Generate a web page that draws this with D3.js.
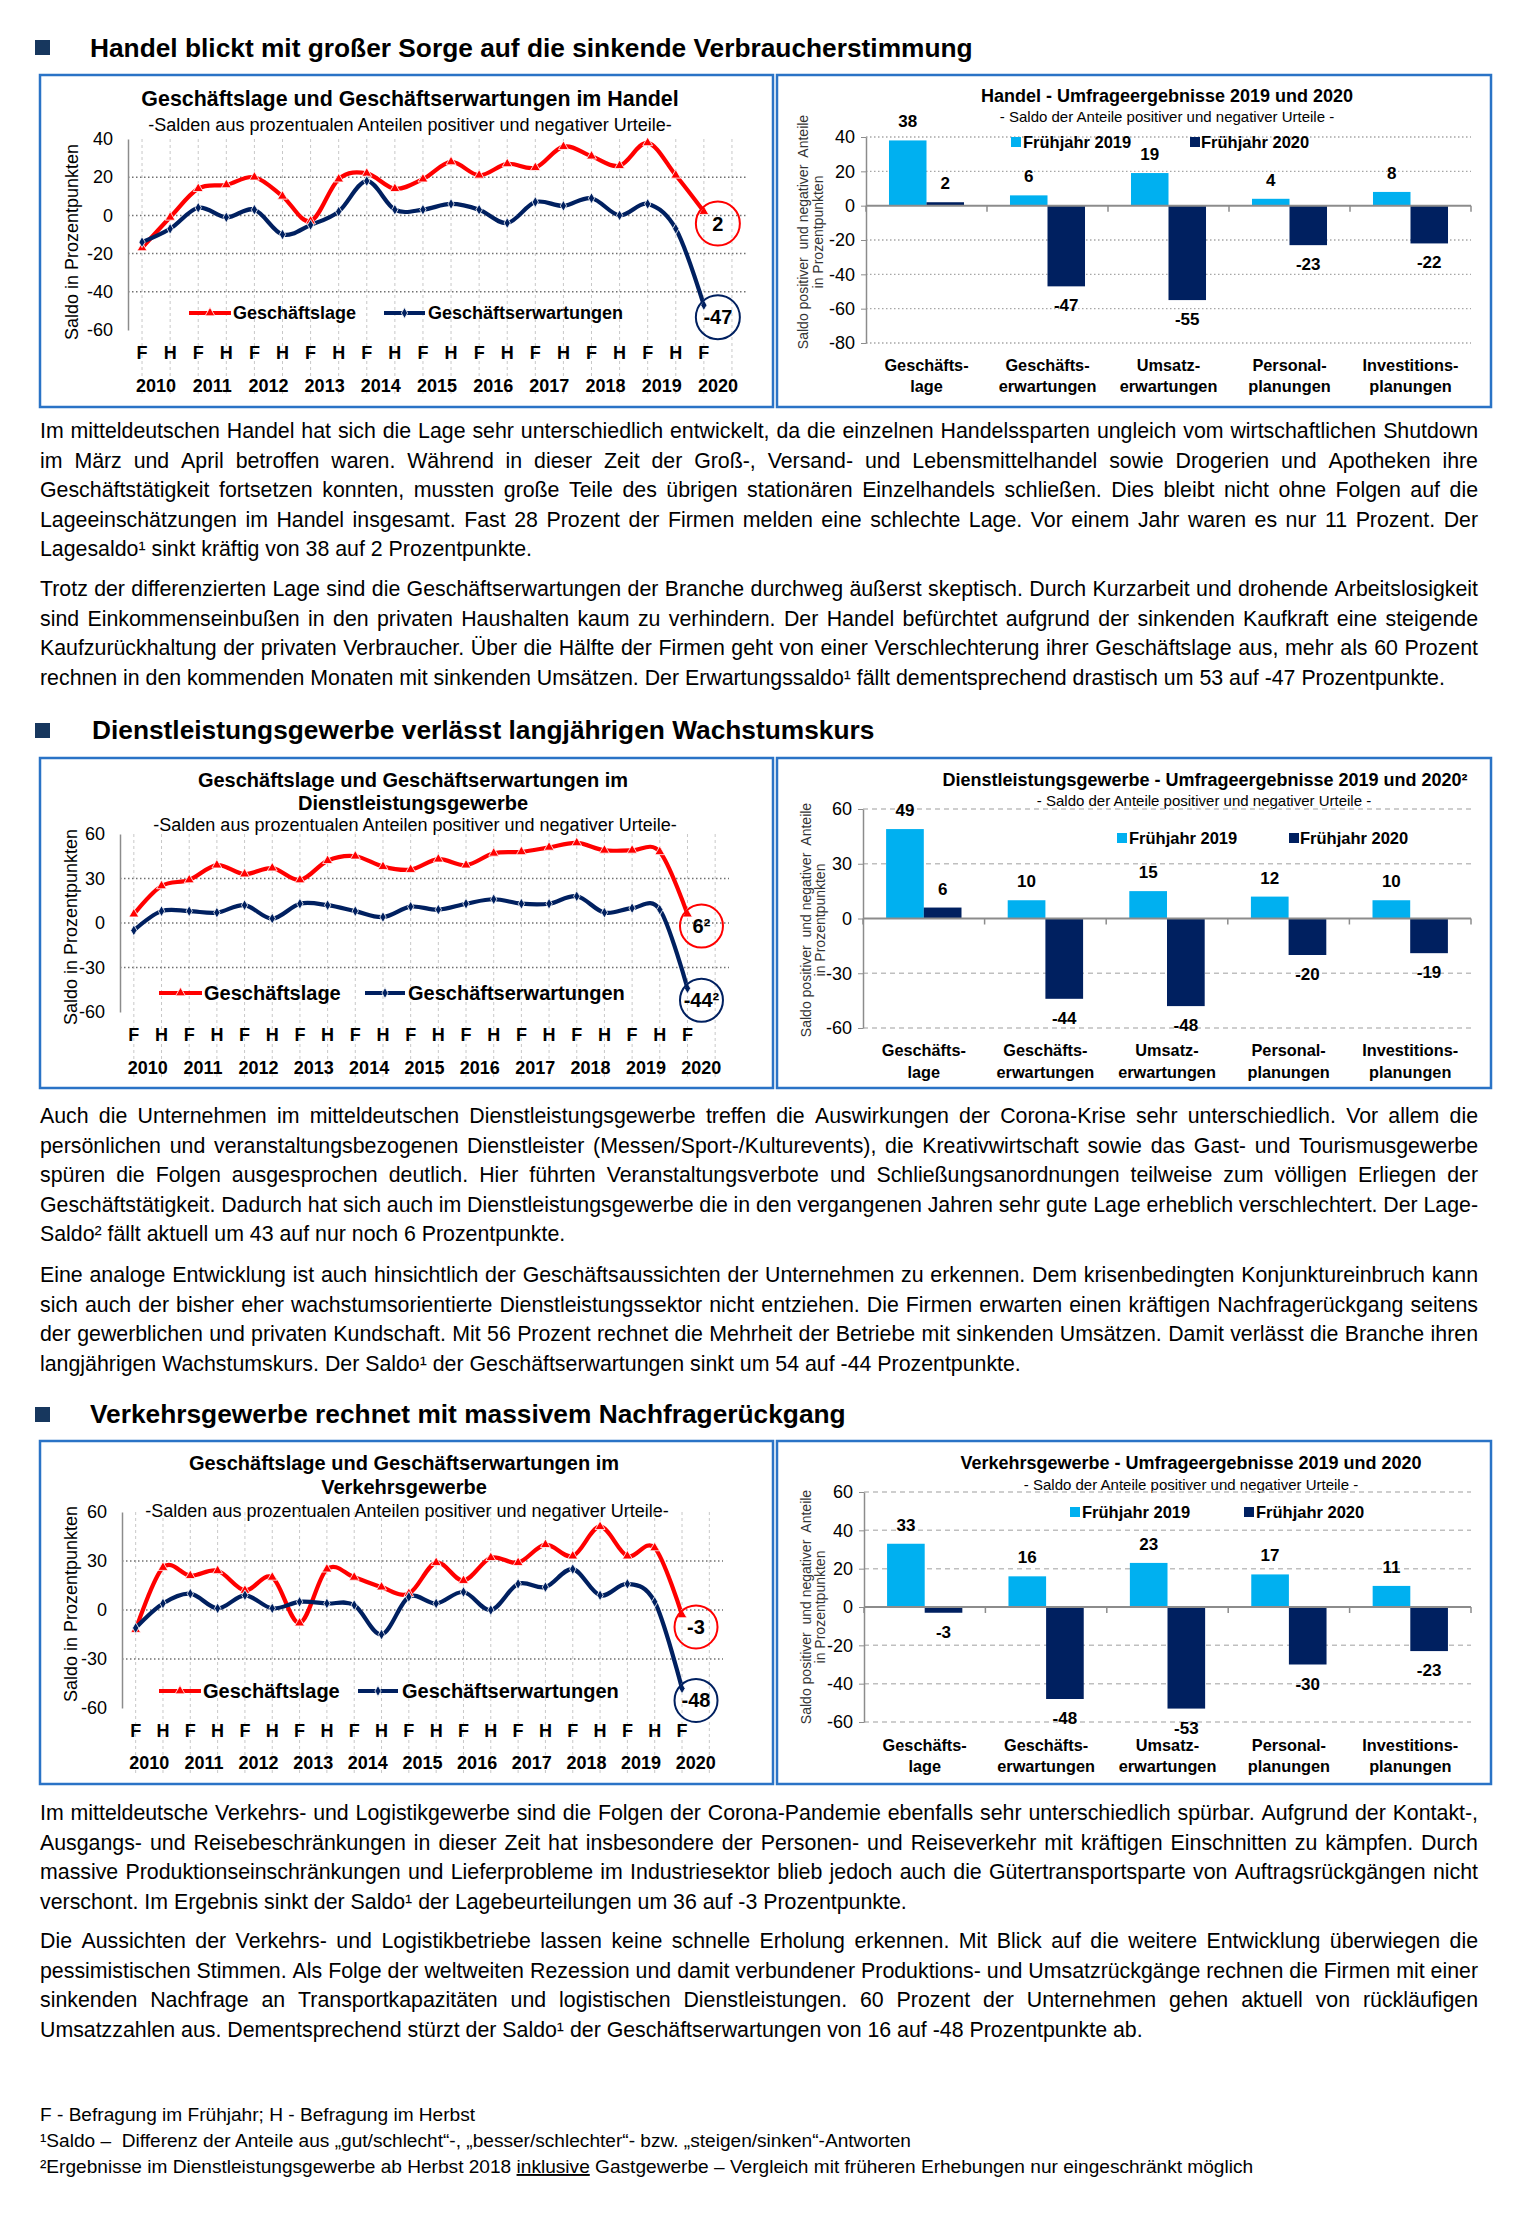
<!DOCTYPE html>
<html><head><meta charset="utf-8">
<script src="https://cdn.jsdelivr.net/npm/d3@7"></script>
<style>
body{margin:0;background:#fff;}
svg{display:block;font-family:"Liberation Sans",Arial,Helvetica,sans-serif;}
</style></head><body>
<svg id="page" width="1520" height="2214"></svg>
<script>
// ---------------- DATA ----------------
const periodLabels = ["F","H","F","H","F","H","F","H","F","H","F","H","F","H","F","H","F","H","F","H","F"];
const yearLabels = ["2010","2011","2012","2013","2014","2015","2016","2017","2018","2019","2020"];
const seriesNames = ["Geschäftslage","Geschäftserwartungen"];

const handelLage = [-17,-1,14,16,20,10,-3,19,22,14,19,28,21,27,25,36,31,26,38,21,2];
const handelErw  = [-14,-7,4,-1,3,-10,-5,2,18,3,3,6,3,-4,7,5,9,0,6,-7,-47];
const dienstLage = [6,25,29,39,33,37,29,42,45,38,36,43,39,47,48,51,54,49,49,48,6];
const dienstErw  = [-5,8,8,7,12,3,13,12,8,4,11,9,13,16,13,13,18,7,10,9,-44];
const verkehrLage = [-12,26,21,24,12,20,-8,25,20,14,10,29,18,32,29,40,33,51,33,38,-3];
const verkehrErw  = [-11,4,10,1,9,1,5,4,3,-15,8,4,11,0,16,14,25,9,16,5,-48];

const handelLineTicks = [-60,-40,-20,0,20,40];
const dienstLineTicks = [-60,-30,0,30,60];
const verkehrLineTicks = [-60,-30,0,30,60];

const barCategories = [["Geschäfts-","lage"],["Geschäfts-","erwartungen"],["Umsatz-","erwartungen"],["Personal-","planungen"],["Investitions-","planungen"]];
const barSeries = ["Frühjahr 2019","Frühjahr 2020"];
const handel2019 = [38,6,19,4,8];
const handel2020 = [2,-47,-55,-23,-22];
const dienst2019 = [49,10,15,12,10];
const dienst2020 = [6,-44,-48,-20,-19];
const verkehr2019 = [33,16,23,17,11];
const verkehr2020 = [-3,-48,-53,-30,-23];
const handelBarTicks = [-80,-60,-40,-20,0,20,40];
const dienstBarTicks = [-60,-30,0,30,60];
const verkehrBarTicks = [-60,-40,-20,0,20,40,60];

const p1 = [
"Im mitteldeutschen Handel hat sich die Lage sehr unterschiedlich entwickelt, da die einzelnen Handelssparten ungleich vom wirtschaftlichen Shutdown",
"im März und April betroffen waren. Während in dieser Zeit der Groß-, Versand- und Lebensmittelhandel sowie Drogerien und Apotheken ihre",
"Geschäftstätigkeit fortsetzen konnten, mussten große Teile des übrigen stationären Einzelhandels schließen. Dies bleibt nicht ohne Folgen auf die",
"Lageeinschätzungen im Handel insgesamt. Fast 28 Prozent der Firmen melden eine schlechte Lage. Vor einem Jahr waren es nur 11 Prozent. Der",
"Lagesaldo¹ sinkt kräftig von 38 auf 2 Prozentpunkte."];
const p2 = [
"Trotz der differenzierten Lage sind die Geschäftserwartungen der Branche durchweg äußerst skeptisch. Durch Kurzarbeit und drohende Arbeitslosigkeit",
"sind Einkommenseinbußen in den privaten Haushalten kaum zu verhindern. Der Handel befürchtet aufgrund der sinkenden Kaufkraft eine steigende",
"Kaufzurückhaltung der privaten Verbraucher. Über die Hälfte der Firmen geht von einer Verschlechterung ihrer Geschäftslage aus, mehr als 60 Prozent",
"rechnen in den kommenden Monaten mit sinkenden Umsätzen. Der Erwartungssaldo¹ fällt dementsprechend drastisch um 53 auf -47 Prozentpunkte."];
const p3 = [
"Auch die Unternehmen im mitteldeutschen Dienstleistungsgewerbe treffen die Auswirkungen der Corona-Krise sehr unterschiedlich. Vor allem die",
"persönlichen und veranstaltungsbezogenen Dienstleister (Messen/Sport-/Kulturevents), die Kreativwirtschaft sowie das Gast- und Tourismusgewerbe",
"spüren die Folgen ausgesprochen deutlich. Hier führten Veranstaltungsverbote und Schließungsanordnungen teilweise zum völligen Erliegen der",
"Geschäftstätigkeit. Dadurch hat sich auch im Dienstleistungsgewerbe die in den vergangenen Jahren sehr gute Lage erheblich verschlechtert. Der Lage-",
"Saldo² fällt aktuell um 43 auf nur noch 6 Prozentpunkte."];
const p4 = [
"Eine analoge Entwicklung ist auch hinsichtlich der Geschäftsaussichten der Unternehmen zu erkennen. Dem krisenbedingten Konjunktureinbruch kann",
"sich auch der bisher eher wachstumsorientierte Dienstleistungssektor nicht entziehen. Die Firmen erwarten einen kräftigen Nachfragerückgang seitens",
"der gewerblichen und privaten Kundschaft. Mit 56 Prozent rechnet die Mehrheit der Betriebe mit sinkenden Umsätzen. Damit verlässt die Branche ihren",
"langjährigen Wachstumskurs. Der Saldo¹ der Geschäftserwartungen sinkt um 54 auf -44 Prozentpunkte."];
const p5 = [
"Im mitteldeutsche Verkehrs- und Logistikgewerbe sind die Folgen der Corona-Pandemie ebenfalls sehr unterschiedlich spürbar. Aufgrund der Kontakt-,",
"Ausgangs- und Reisebeschränkungen in dieser Zeit hat insbesondere der Personen- und Reiseverkehr mit kräftigen Einschnitten zu kämpfen. Durch",
"massive Produktionseinschränkungen und Lieferprobleme im Industriesektor blieb jedoch auch die Gütertransportsparte von Auftragsrückgängen nicht",
"verschont. Im Ergebnis sinkt der Saldo¹ der Lagebeurteilungen um 36 auf -3 Prozentpunkte."];
const p6 = [
"Die Aussichten der Verkehrs- und Logistikbetriebe lassen keine schnelle Erholung erkennen. Mit Blick auf die weitere Entwicklung überwiegen die",
"pessimistischen Stimmen. Als Folge der weltweiten Rezession und damit verbundener Produktions- und Umsatzrückgänge rechnen die Firmen mit einer",
"sinkenden Nachfrage an Transportkapazitäten und logistischen Dienstleistungen. 60 Prozent der Unternehmen gehen aktuell von rückläufigen",
"Umsatzzahlen aus. Dementsprechend stürzt der Saldo¹ der Geschäftserwartungen von 16 auf -48 Prozentpunkte ab."];

// ---------------- COLORS ----------------
const RED = "#ff0000", NAVY = "#002060", LIGHT = "#00b0f0", BOXC = "#2a73c6";

const svg = d3.select("#page");
svg.append("rect").attr("width",1520).attr("height",2214).attr("fill","#fff");

function txt(g, x, y, s, o = {}) {
  return g.append("text").attr("x", x).attr("y", y).text(s)
    .attr("font-size", o.size || 18)
    .attr("font-weight", o.bold ? "bold" : "normal")
    .attr("text-anchor", o.anchor || "start")
    .attr("fill", o.fill || "#000");
}

// ---------------- SECTION TITLES ----------------
const sections = [
  {t:"Handel blickt mit großer Sorge auf die sinkende Verbraucherstimmung", x:90, y:57, by:40},
  {t:"Dienstleistungsgewerbe verlässt langjährigen Wachstumskurs", x:92, y:739, by:723},
  {t:"Verkehrsgewerbe rechnet mit massivem Nachfragerückgang", x:90, y:1423, by:1407}
];
sections.forEach(s => {
  svg.append("rect").attr("x",35).attr("y",s.by).attr("width",15).attr("height",15).attr("fill","#17375e");
  txt(svg, s.x, s.y, s.t, {size:26.3, bold:true});
});

// ---------------- LINE CHARTS ----------------
function lineChart(c, lage, erw) {
  const g = svg.append("g");
  g.append("rect").attr("x",c.box[0]).attr("y",c.box[1]).attr("width",c.box[2]-c.box[0]).attr("height",c.box[3]-c.box[1])
    .attr("fill","#fff").attr("stroke",BOXC).attr("stroke-width",2.5);
  const slots = d3.range(22);
  const x = d3.scalePoint().domain(slots).range([c.axisX, c.plotRight]).padding(0.5);
  const y = d3.scaleLinear().domain(c.domain).range([c.yBottom, c.yTop]);
  const step = x.step();
  c.titles.forEach((t,i) => txt(g, c.titleX, c.titleY[i], t, {size:c.titleSize, bold:true, anchor:"middle"}));
  txt(g, c.subX, c.subY, "-Salden aus prozentualen Anteilen positiver und negativer Urteile-", {size:18, anchor:"middle"});
  g.selectAll(".vg").data(slots).join("line")
    .attr("x1", d => x(d)).attr("x2", d => x(d)).attr("y1", c.yTop).attr("y2", c.vgridBottom)
    .attr("stroke","#c8c8c8").attr("stroke-width",1).attr("stroke-dasharray","3,3");
  g.selectAll(".hg").data(c.ticks.filter(t => t > c.domain[0] && t < c.domain[1])).join("line")
    .attr("x1", c.axisX).attr("x2", c.plotRight).attr("y1", d => y(d)).attr("y2", d => y(d))
    .attr("stroke","#707070").attr("stroke-width",1.5).attr("stroke-dasharray","1.5,2.5");
  const ax = g.append("g").attr("transform",`translate(${c.axisX},0)`)
    .call(d3.axisLeft(y).tickValues(c.ticks).tickSize(0).tickSizeOuter(0).tickPadding(15).tickFormat(d => String(d)));
  ax.select(".domain").attr("stroke","#8c8c8c").attr("stroke-width",1.5);
  ax.selectAll("text").attr("font-size",18).attr("font-family","Liberation Sans, Arial, sans-serif").attr("fill","#000");
  txt(g, 0, 0, "Saldo in Prozentpunkten", {size:18, anchor:"middle"})
    .attr("transform", `translate(${c.yTitleX},${c.yTitleY}) rotate(-90)`);
  periodLabels.forEach((l,i) => txt(g, x(i), c.fhY, l, {size:18, bold:true, anchor:"middle"}));
  yearLabels.forEach((yr,k) => txt(g, x(2*k) + step/2, c.yearY, yr, {size:18, bold:true, anchor:"middle"}));
  const line = d3.line().x((d,i) => x(i)).y(d => y(d)).curve(d3.curveCardinal.tension(0));
  g.append("path").datum(lage).attr("d", line).attr("fill","none").attr("stroke",RED).attr("stroke-width",4.2).attr("stroke-linejoin","round");
  g.append("path").datum(erw).attr("d", line).attr("fill","none").attr("stroke",NAVY).attr("stroke-width",4.2).attr("stroke-linejoin","round");
  const tri = d3.symbol().type(d3.symbolTriangle).size(42);
  const dia = d3.symbol().type(d3.symbolDiamond).size(34);
  g.selectAll(".mr").data(lage).join("path").attr("d", tri)
    .attr("transform",(d,i) => `translate(${x(i)},${y(d)})`).attr("fill",RED).attr("stroke","#fff").attr("stroke-width",0.8);
  g.selectAll(".mb").data(erw).join("path").attr("d", dia)
    .attr("transform",(d,i) => `translate(${x(i)},${y(d)})`).attr("fill",NAVY).attr("stroke","#fff").attr("stroke-width",0.8);
  const last = lage.length - 1;
  [[lage[last], RED, c.endLabels[0]], [erw[last], NAVY, c.endLabels[1]]].forEach(([v,col,lab]) => {
    const cx = x(last) + 14, cy = y(v) + 12;
    g.append("circle").attr("cx",cx).attr("cy",cy).attr("r",c.circleR).attr("fill","none").attr("stroke",col).attr("stroke-width",2);
    txt(g, cx, cy + 7, lab, {size:20, bold:true, anchor:"middle"});
  });
  const lgY = c.legendY;
  [[c.legR, RED, tri, seriesNames[0]], [c.legB, NAVY, dia, seriesNames[1]]].forEach(([p,col,sym,name]) => {
    g.append("line").attr("x1",p[0]).attr("x2",p[1]).attr("y1",lgY).attr("y2",lgY).attr("stroke",col).attr("stroke-width",4.2);
    g.append("path").attr("d",sym).attr("transform",`translate(${(p[0]+p[1])/2},${lgY})`).attr("fill",col).attr("stroke","#fff").attr("stroke-width",0.8);
    txt(g, p[2], lgY + c.legSize*0.36, name, {size:c.legSize, bold:true});
  });
}

lineChart({box:[40,75,773,407], axisX:128, plotRight:746, yTop:139, yBottom:330, domain:[-60,40], ticks:handelLineTicks,
  titles:["Geschäftslage und Geschäftserwartungen im Handel"], titleY:[106], titleX:410, titleSize:21.4, subX:410, subY:131,
  fhY:358.5, yearY:391.5, vgridBottom:394, legendY:313, legR:[189,231,233], legB:[384,425,428], legSize:18,
  yTitleX:78, yTitleY:242, endLabels:["2","-47"], circleR:22}, handelLage, handelErw);

lineChart({box:[40,758,773,1088], axisX:120, plotRight:729, yTop:834, yBottom:1012, domain:[-60,60], ticks:dienstLineTicks,
  titles:["Geschäftslage und Geschäftserwartungen im","Dienstleistungsgewerbe"], titleY:[787,810], titleX:413, titleSize:20, subX:415, subY:831,
  fhY:1040.5, yearY:1073.5, vgridBottom:1080, legendY:993, legR:[159,202,204], legB:[365,405,408], legSize:20,
  yTitleX:77, yTitleY:927, endLabels:["6²","-44²"], circleR:21.5}, dienstLage, dienstErw);

lineChart({box:[40,1441,773,1784], axisX:122, plotRight:723, yTop:1512, yBottom:1708, domain:[-60,60], ticks:verkehrLineTicks,
  titles:["Geschäftslage und Geschäftserwartungen im","Verkehrsgewerbe"], titleY:[1470,1494], titleX:404, titleSize:20, subX:407, subY:1517,
  fhY:1736.5, yearY:1768.5, vgridBottom:1776, legendY:1691, legR:[159,201,203], legB:[358,398,402], legSize:20,
  yTitleX:77, yTitleY:1604, endLabels:["-3","-48"], circleR:21.5}, verkehrLage, verkehrErw);

// ---------------- BAR CHARTS ----------------
function barChart(c, v19, v20) {
  const g = svg.append("g");
  g.append("rect").attr("x",c.box[0]).attr("y",c.box[1]).attr("width",c.box[2]-c.box[0]).attr("height",c.box[3]-c.box[1])
    .attr("fill","#fff").attr("stroke",BOXC).attr("stroke-width",2.5);
  const cats = d3.range(barCategories.length);
  const x = d3.scaleBand().domain(cats).range([c.axisX, c.plotRight]).padding(0);
  const bw = x.bandwidth(), gw = bw * 0.62;
  const x1 = d3.scaleBand().domain([0,1]).range([(bw-gw)/2, (bw+gw)/2]).padding(0);
  const y = d3.scaleLinear().domain(c.domain).range([c.yBottom, c.yTop]);
  txt(g, c.titleX, c.titleY, c.title, {size:18, bold:true, anchor:"middle"});
  txt(g, c.subX, c.subY, "- Saldo der Anteile positiver und negativer Urteile -", {size:15, anchor:"middle"});
  g.selectAll(".hg").data(c.ticks.filter(t => t !== 0)).join("line")
    .attr("x1", c.axisX).attr("x2", c.plotRight).attr("y1", d => y(d)).attr("y2", d => y(d))
    .attr("stroke", c.gridColor).attr("stroke-width", c.gridW).attr("stroke-dasharray", c.dash);
  const ax = g.append("g").attr("transform",`translate(${c.axisX},0)`)
    .call(d3.axisLeft(y).tickValues(c.ticks).tickSize(5).tickSizeOuter(0).tickPadding(6).tickFormat(d => String(d)));
  ax.select(".domain").attr("stroke","#8c8c8c").attr("stroke-width",1.5);
  ax.selectAll(".tick line").attr("stroke","#8c8c8c");
  ax.selectAll("text").attr("font-size",18).attr("font-family","Liberation Sans, Arial, sans-serif").attr("fill","#000");
  const yt = ["Saldo positiver  und negativer  Anteile", "in Prozentpunkten"];
  yt.forEach((t,i) => txt(g, 0, 0, t, {size:14, anchor:"middle", fill:"#333"})
    .attr("transform",`translate(${c.yTitleX[i]},${c.yTitleY}) rotate(-90)`).style("white-space","pre"));
  const groups = g.selectAll(".grp").data(cats).join("g").attr("transform", d => `translate(${x(d)},0)`);
  [[v19, LIGHT, 0], [v20, NAVY, 1]].forEach(([vals, col, k]) => {
    groups.append("rect").attr("x", x1(k)).attr("width", x1.bandwidth())
      .attr("y", d => Math.min(y(vals[d]), y(0))).attr("height", d => Math.abs(y(vals[d]) - y(0)))
      .attr("fill", col);
    groups.append("text").attr("x", x1(k) + x1.bandwidth()/2)
      .attr("y", d => vals[d] >= 0 ? y(vals[d]) - 13 : y(vals[d]) + 25)
      .attr("text-anchor","middle").attr("font-size",17).attr("font-weight","bold").text(d => vals[d]);
  });
  g.append("line").attr("x1",c.axisX).attr("x2",c.plotRight).attr("y1",y(0)).attr("y2",y(0)).attr("stroke","#8c8c8c").attr("stroke-width",2);
  g.selectAll(".zt").data(d3.range(barCategories.length + 1)).join("line")
    .attr("x1", d => c.axisX + d*bw).attr("x2", d => c.axisX + d*bw).attr("y1", y(0)).attr("y2", y(0) + 6)
    .attr("stroke","#8c8c8c").attr("stroke-width",1.5);
  cats.forEach(i => barCategories[i].forEach((l,j) =>
    txt(g, x(i) + bw/2, c.catY[j], l, {size:16.3, bold:true, anchor:"middle"})));
  [[c.leg[0], c.leg[1], LIGHT, barSeries[0]], [c.leg[2], c.leg[3], NAVY, barSeries[1]]].forEach(([sx,tx,col,name]) => {
    g.append("rect").attr("x",sx).attr("y",c.legY-5).attr("width",10).attr("height",10).attr("fill",col);
    txt(g, tx, c.legY + 6, name, {size:16.5, bold:true});
  });
}

barChart({box:[777,75,1491,407], axisX:866, plotRight:1471, yTop:137, yBottom:343, domain:[-80,40], ticks:handelBarTicks,
  title:"Handel - Umfrageergebnisse 2019 und 2020", titleX:1167, titleY:102, subX:1167, subY:122,
  legY:142, leg:[1011,1023,1190,1201], catY:[371,392], yTitleX:[808,823], yTitleY:232,
  gridColor:"#a6a6a6", gridW:1.3, dash:"1.5,2.5"}, handel2019, handel2020);

barChart({box:[777,758,1491,1088], axisX:863, plotRight:1471, yTop:809, yBottom:1028, domain:[-60,60], ticks:dienstBarTicks,
  title:"Dienstleistungsgewerbe - Umfrageergebnisse 2019 und 2020²", titleX:1205, titleY:786, subX:1204, subY:806,
  legY:838, leg:[1117,1129,1289,1300], catY:[1056,1078], yTitleX:[811,825], yTitleY:920,
  gridColor:"#bfbfbf", gridW:1.5, dash:"5,4"}, dienst2019, dienst2020);

barChart({box:[777,1441,1491,1784], axisX:864, plotRight:1471, yTop:1492, yBottom:1722, domain:[-60,60], ticks:verkehrBarTicks,
  title:"Verkehrsgewerbe - Umfrageergebnisse 2019 und 2020", titleX:1191, titleY:1469, subX:1191, subY:1490,
  legY:1512, leg:[1070,1082,1244,1256], catY:[1751,1772], yTitleX:[811,825], yTitleY:1607,
  gridColor:"#bfbfbf", gridW:1.5, dash:"5,4"}, verkehr2019, verkehr2020);

// ---------------- PARAGRAPHS ----------------
const PX0 = 40, PX1 = 1478, PSIZE = 21.33, PITCH = 29.6;
function para(lines, y0) {
  lines.forEach((s, i) => {
    const y = y0 + i * PITCH;
    if (i === lines.length - 1) {
      txt(svg, PX0, y, s, {size:PSIZE});
      return;
    }
    const words = s.split(" ");
    const t = svg.append("text").attr("y", y).attr("font-size", PSIZE).attr("fill","#000");
    const spans = words.map(w => t.append("tspan").text(w));
    const widths = spans.map(sp => sp.node().getComputedTextLength());
    const gap = (PX1 - PX0 - d3.sum(widths)) / (words.length - 1);
    let cx = PX0;
    spans.forEach((sp, k) => { sp.attr("x", cx); cx += widths[k] + gap; });
  });
}
para(p1, 438);
para(p2, 596);
para(p3, 1123);
para(p4, 1282);
para(p5, 1820);
para(p6, 1948);

// ---------------- FOOTNOTES ----------------
const FS = 19.1;
txt(svg, 40, 2121, "F - Befragung im Frühjahr; H - Befragung im Herbst", {size:FS});
txt(svg, 40, 2147, "¹Saldo –  Differenz der Anteile aus „gut/schlecht“-, „besser/schlechter“- bzw. „steigen/sinken“-Antworten", {size:FS}).style("white-space","pre");
const f3 = svg.append("text").attr("x",40).attr("y",2173).attr("font-size",FS);
f3.append("tspan").text("²Ergebnisse im Dienstleistungsgewerbe ab Herbst 2018 ");
f3.append("tspan").text("inklusive").style("text-decoration","underline");
f3.append("tspan").text(" Gastgewerbe – Vergleich mit früheren Erhebungen nur eingeschränkt möglich");
</script>
</body></html>
